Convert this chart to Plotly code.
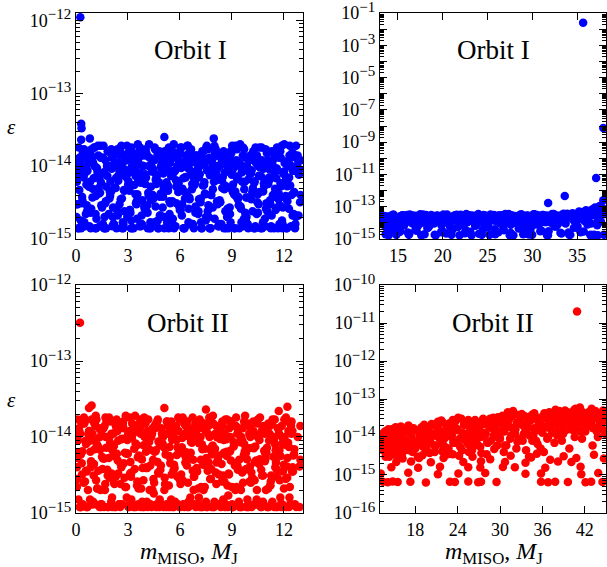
import plotly.graph_objects as go

# epsilon values are given in units of 1e-15
UNIT = 1e-15

# ---------- mass samples for the 0-13 M_J runs (shared by Orbit I and Orbit II, left panels)
m_low_a = [0.12,0.21,0.33,0.41,0.52,0.6,0.71,0.83,0.9,1.02,1.11,1.2,1.33,1.41,1.5,1.62,1.7,1.81,1.93,2.01,2.1,2.22,2.3,2.41,2.53,2.6,2.72,2.8,2.91,3.03,3.1,3.2,3.32,3.41,3.5,3.61,3.73,3.8,3.92,4.0,4.11,4.22,4.3,4.43,4.51,4.6,4.72,4.81,4.9,5.02,5.1,5.21,5.33,5.4,5.52,5.61,5.7,5.82,5.9,6.01,6.13,6.2,6.31,6.42,6.5,6.62,6.71,6.8,6.91,7.03,7.1,7.22,7.3,7.41,7.52,7.6,7.71,7.83,7.9,8.02,8.1,8.21,8.33,8.4,8.52,8.6,8.72,8.81,8.9,9.03,9.12,9.2,9.31,9.42,9.5,9.61,9.7,9.82,9.91,10.02,10.1,10.21,10.33,10.41,10.5,10.62,10.71,10.8,10.92,11.0,11.12,11.2,11.31,11.43,11.5,11.61,11.72,11.8,11.9,12.02,12.1,12.22,12.3,12.41,12.52,12.6,12.71,12.8,12.9]
m_low_b = [0.05,0.16,0.27,0.37,0.46,0.57,0.66,0.77,0.87,0.96,1.06,1.16,1.26,1.36,1.46,1.56,1.67,1.76,1.86,1.97,2.06,2.16,2.27,2.36,2.46,2.57,2.66,2.76,2.87,2.96,3.06,3.17,3.26,3.36,3.46,3.57,3.66,3.76,3.87,3.96,4.06,4.17,4.26,4.36,4.47,4.56,4.66,4.76,4.87,4.96,5.06,5.17,5.26,5.36,5.47,5.56,5.66,5.77,5.86,5.96,6.07,6.16,6.26,6.37,6.46,6.56,6.66,6.77,6.86,6.96,7.07,7.16,7.26,7.36,7.47,7.56,7.66,7.77,7.86,7.96,8.06,8.17,8.26,8.36,8.47,8.56,8.66,8.76,8.87,8.96,9.06,9.17,9.26,9.36,9.47,9.56,9.66,9.76,9.87,9.96,10.06,10.17,10.26,10.36,10.47,10.56,10.66,10.77,10.86,10.96,11.06,11.17,11.26,11.36,11.47,11.56,11.66,11.76,11.87,11.96,12.06,12.17,12.26,12.36,12.47,12.56,12.66,12.77,12.86]
m_low_c = [0.09,0.25,0.3,0.44,0.55,0.64,0.75,0.85,0.93,1.08,1.14,1.24,1.38,1.44,1.53,1.65,1.74,1.84,1.95,2.04,2.14,2.25,2.34,2.44,2.55,2.65,2.74,2.84,2.94,3.08,3.14,3.24,3.38,3.44,3.54,3.65,3.74,3.84,3.94,4.04,4.14,4.25,4.34,4.45,4.54,4.64,4.74,4.84,4.94,5.04,5.14,5.24,5.35,5.44,5.55,5.64,5.74,5.85,5.94,6.04,6.15,6.24,6.34,6.45,6.54,6.64,6.74,6.84,6.94,7.05,7.14,7.24,7.34,7.44,7.55,7.64,7.74,7.84,7.94,8.04,8.14,8.24,8.35,8.44,8.54,8.64,8.74,8.84,8.94,9.05,9.14,9.24,9.34,9.44,9.55,9.64,9.74,9.84,9.94,10.04,10.14,10.24,10.35,10.44,10.54,10.64,10.74,10.84,10.94,11.04,11.14,11.24,11.34,11.44,11.54,11.64,11.74,11.84,11.94,12.04,12.14,12.24,12.34,12.44,12.54,12.64,12.74,12.84,12.93]
m_low_d = [0.03,0.14,0.24,0.35,0.48,0.58,0.69,0.79,0.88,0.99,1.09,1.18,1.29,1.39,1.48,1.59,1.69,1.79,1.89,1.99,2.08,2.19,2.29,2.39,2.49,2.58,2.69,2.79,2.89,2.99,3.09,3.19,3.29,3.39,3.49,3.59,3.69,3.79,3.89,3.99,4.09,4.19,4.29,4.39,4.49,4.59,4.69,4.79,4.89,4.99,5.09,5.19,5.29,5.39,5.49,5.59,5.69,5.79,5.89,5.99,6.09,6.19,6.29,6.39,6.49,6.59,6.69,6.79,6.89,6.99,7.09,7.19,7.29,7.39,7.49,7.59,7.69,7.79,7.89,7.99,8.09,8.19,8.29,8.39,8.49,8.59,8.69,8.79,8.89,8.99,9.09,9.19,9.29,9.39,9.49,9.59,9.69,9.79,9.89,9.99,10.09,10.19,10.29,10.39,10.49,10.59,10.69,10.79,10.89,10.99,11.09,11.19,11.29,11.39,11.49,11.59,11.69,11.79,11.89,11.99,12.09,12.19,12.29,12.39,12.49,12.59,12.69,12.79,12.89,12.97]
m_low_e = [0.07,0.19,0.28,0.39,0.5,0.62,0.73,0.81,0.95,1.04,1.13,1.22,1.31,1.43,1.55,1.64,1.72,1.83,1.91,2.03,2.12,2.2,2.32,2.43,2.51,2.62,2.7,2.82,2.93,3.01,3.12,3.22,3.3,3.43,3.52,3.63,3.71,3.82,3.9,4.02,4.13,4.2,4.32,4.41,4.53,4.62,4.7,4.83,4.92,5.0,5.12,5.23,5.31,5.42,5.5,5.62,5.72,5.8,5.92,6.03,6.11,6.22,6.33,6.4,6.52,6.6,6.73,6.82,6.9,7.01,7.12,7.2,7.32,7.43,7.5,7.62,7.73,7.81,7.92,8.0,8.12,8.23,8.31,8.42,8.5,8.62,8.7,8.83,8.92,9.01,9.1,9.22,9.33,9.4,9.52,9.63,9.71,9.8,9.93,10.0,10.12,10.23,10.31,10.43,10.52,10.6,10.73,10.82,10.9,11.02,11.1,11.22,11.33,11.41,11.52,11.6,11.7,11.82,11.92,12.0,12.12,12.2,12.32,12.43,12.5,12.62,12.73,12.82,12.95]

# ---------- Orbit I, 0-13 M_J (blue, top-left)
eps1_a = [1.4,8.2,3.1,14,1.5,5.6,11,2.3,17,6.8,1.4,9.5,4.2,19,2.7,1.4,12,7.3,3.6,15,1.5,5.1,10,2.1,16,8.8,1.4,4.6,13,6.2,2.5,18,1.4,9.1,3.3,11,5.9,1.6,14,7.7,2.9,20,1.4,4.0,12,6.5,1.8,16,9.9,3.8,1.4,13,5.3,2.2,17,8.0,1.5,10,4.4,15,3.0,1.4,7.1,19,2.6,11,5.7,1.4,14,8.5,3.5,1.7,12,6.0,18,2.4,1.4,9.3,4.8,15,7.4,1.5,3.2,11,16,5.4,2.0,1.4,13,8.9,4.1,19,6.6,1.4,2.8,10,17,3.7,1.6,12,7.9,5.0,1.4,14,2.3,9.6,18,4.5,1.5,6.3,11,3.4,16,1.4,8.3,2.7,13,5.8,1.4,20,3.9,10,7.0,1.5,15,4.3,2.1,12,9.0]
eps1_b = [6.1,1.4,12,3.4,17,2.2,8.6,1.5,14,4.9,10,1.4,19,6.9,2.9,13,1.4,5.2,16,3.9,9.2,1.6,11,2.5,7.5,18,1.4,4.7,14,2.0,8.1,1.4,12,5.5,3.1,20,1.5,6.7,10,2.6,15,4.3,1.4,9.8,3.6,17,7.2,1.4,2.1,13,5.0,11,1.7,18,8.4,3.3,1.4,6.4,15,2.8,9.4,4.6,1.4,12,19,3.5,7.8,1.5,5.9,14,2.4,10,1.4,16,4.1,8.7,2.0,1.4,11,6.1,17,3.0,1.6,13,7.1,4.8,1.4,9.7,2.7,15,5.6,1.4,12,3.8,20,8.2,1.5,2.3,10,6.6,14,4.4,1.4,18,3.2,7.4,1.4,11,5.3,2.6,16,9.0,1.5,4.0,13,6.8,1.4,2.9,19,8.0,3.7,1.4,12,5.4,15,2.2,1.6,10,7.6]
eps1_c = [3.0,10,1.4,7.0,15,2.4,5.2,1.4,12,18,3.9,8.3,1.5,6.0,13,2.0,1.4,9.9,4.5,17,2.7,11,1.4,6.3,14,3.6,1.6,8.9,19,5.1,2.3,1.4,12,7.3,4.1,16,1.5,10,2.8,6.9,1.4,13,3.4,9.1,18,5.7,1.4,2.1,11,7.9,4.6,15,1.4,3.1,8.5,20,1.5,6.2,12,2.5,4.9,1.4,14,9.4,3.7,17,1.6,5.5,11,2.2,7.7,1.4,13,4.2,19,2.9,1.4,8.1,10,6.5,3.3,1.5,15,5.0,1.4,12,2.6,9.5,16,4.4,1.4,7.2,3.5,11,1.7,18,6.1,2.0,1.4,13,8.8,4.7,1.5,14,3.0,10,1.4,5.8,17,2.4,7.0,1.4,12,3.8,9.3,15,1.6,5.3,2.7,11,1.4,6.7,19,4.0,8.6,1.4,13,2.1,3.2]
eps1_d = [2.0,7.5,12,3.8,1.7,9.8,5.4,16,2.6,11,6.9,1.9,14,4.3,8.0,19,3.1,10,2.2,6.2,13,1.6,5.0,17,8.9,3.5,11,2.4,7.1,15,4.6,1.8,12,9.2,3.0,6.5,18,2.1,10,5.7,14,3.9,1.7,8.4,12,2.8,16,6.0,4.2,11,2.0,9.5,13,3.3,7.3,1.9,15,5.2,10,2.5,18,6.8,3.6,12,1.7,8.7,4.8,14,2.3,11,7.0,3.2,16,5.5,1.8,9.0,13,4.0,2.7,19,6.4,10,3.4,1.6,12,8.2,5.1,15,2.2,7.6,11,4.5,17,2.9,9.7,6.1,1.9,13,3.7,8.5,14,2.4,5.9,11,4.1,18,7.2,1.7,10,3.1,12,6.6,2.1,15,4.9,9.3,3.5,16,1.8,7.8,11,5.3,2.6,13,8.9,4.4,2.0,14]
eps1_e = [11,4.7,1.8,15,7.9,2.9,12,6.1,3.7,18,2.2,9.1,5.0,13,1.6,8.3,3.3,16,10,4.5,2.0,14,6.9,11,3.0,19,1.7,7.4,12,5.6,2.5,9.9,15,4.1,1.9,13,8.0,3.4,6.3,17,2.3,10,5.2,12,1.7,7.7,14,3.8,9.4,2.7,16,6.0,4.6,11,1.8,13,8.6,3.1,5.8,18,2.1,10,7.0,4.3,15,1.6,12,6.7,2.8,9.0,14,3.6,5.4,11,2.0,17,7.5,4.0,13,1.9,8.8,3.2,10,6.4,15,2.4,12,5.1,1.7,19,9.6,3.9,7.1,11,2.6,14,4.8,1.8,13,8.1,3.5,16,6.2,2.2,10,4.4,12,9.2,1.9,15,5.7,3.0,11,7.3,2.5,18,4.2,13,1.6,8.4,6.6,3.3,14,10,2.1]
m1_extra = [0.25,0.3,0.32,0.8,5.1,7.95,0.15,12.7,0.05,0.05,12.97,12.97,0.3,0.2]
eps1_extra = [1100,38,33,24,25,24,18,19,9,3,12,4,23,13]

# ---------- Orbit II, 0-13 M_J (red, bottom-left)
eps3_a = [9.0,1.2,4.5,15,2.6,1.2,11,6.4,17,3.1,1.3,8.0,13,2.0,5.5,1.2,18,3.7,10,7.1,1.2,2.4,14,4.9,1.3,9.3,16,2.9,6.0,1.2,12,3.4,1.2,19,7.7,2.1,11,5.1,1.2,15,3.9,8.6,1.3,13,2.5,6.7,17,1.2,4.2,10,2.0,1.2,14,7.4,3.2,1.2,12,5.8,18,2.7,9.7,1.3,4.6,16,1.2,6.2,11,3.0,1.2,13,8.3,2.2,1.2,15,5.3,3.6,10,1.2,19,7.0,2.4,1.3,12,4.4,9.1,1.2,17,3.3,6.6,1.2,14,2.0,11,5.0,1.2,8.8,16,3.8,1.2,2.6,13,7.2,4.7,1.3,10,18,1.2,3.1,6.1,12,1.2,2.3,15,9.4,4.0,1.2,11,5.6,1.3,17,2.8,8.1,1.2,14,3.5,6.9,1.2,10,4.1]
eps3_b = [2.2,13,1.2,6.5,18,3.6,1.2,9.6,4.8,1.3,15,2.7,7.6,1.2,12,5.2,2.0,16,1.2,8.4,3.3,11,1.2,6.0,14,2.4,1.3,4.5,19,9.1,1.2,3.0,12,7.0,1.2,5.4,15,2.1,1.2,10,4.0,17,6.8,1.2,2.8,13,1.3,8.7,3.7,11,1.2,5.9,16,2.3,1.2,9.8,4.3,14,7.3,1.2,3.2,18,1.2,6.3,2.5,12,1.3,5.0,10,3.9,15,1.2,8.0,2.0,13,1.2,4.6,17,7.5,1.2,3.4,11,5.7,1.3,14,2.6,9.3,1.2,6.4,16,1.2,4.2,2.2,12,8.5,1.2,3.6,19,5.1,1.2,10,2.9,7.1,1.3,15,4.4,1.2,13,6.6,2.0,1.2,11,3.1,9.0,17,1.2,5.5,2.7,14,1.2,7.9,4.1,12,1.3,3.5]
eps3_c = [5.3,1.2,16,2.5,8.9,1.2,12,4.0,1.3,6.9,19,2.1,10,1.2,3.8,14,7.2,1.2,2.9,11,5.6,1.2,17,3.3,1.2,9.5,13,2.2,6.1,1.3,4.7,15,1.2,8.2,2.6,12,1.2,3.9,18,6.4,1.2,2.0,10,5.0,14,1.2,3.4,7.8,1.3,11,2.4,16,1.2,4.5,9.2,1.2,13,3.0,6.8,1.2,2.7,15,5.4,1.2,10,8.6,3.6,1.3,12,2.1,17,1.2,4.3,7.0,1.2,14,2.8,5.9,1.2,11,9.9,3.2,1.2,16,6.2,1.3,2.3,13,4.9,1.2,8.0,18,3.7,1.2,10,2.5,6.5,1.2,15,4.1,1.2,12,7.5,2.0,1.3,11,3.1,14,5.2,1.2,9.0,2.6,17,1.2,4.6,13,6.7,1.2,3.5,10,1.2,8.4,2.2,16,5.7,1.3]
eps3_d = [6.3,1.5,11,3.2,15,8.1,2.0,12,4.6,1.4,9.0,17,3.6,6.8,1.3,13,2.4,10,5.3,16,1.6,7.6,3.0,12,1.3,4.4,14,9.5,2.2,6.0,18,1.5,11,3.8,7.9,1.3,13,5.1,2.7,15,1.4,8.8,4.2,11,1.8,6.5,16,3.3,1.3,10,7.2,2.3,14,5.6,1.5,12,3.9,9.3,1.3,17,2.6,6.1,11,4.8,1.4,13,8.4,2.0,15,3.5,1.6,10,6.9,1.3,12,4.0,18,2.8,7.7,1.4,14,5.0,9.8,1.3,3.1,11,6.4,1.7,16,2.2,8.6,4.5,1.3,13,10,3.4,5.8,15,1.5,7.1,2.5,12,1.3,4.9,17,9.1,3.7,1.4,11,6.2,2.1,14,1.3,5.5,8.0,3.0,13,1.6,10,4.3,16,2.9,7.4,1.3,12,5.9]
eps3_e = [2.8,12,5.9,1.3,16,3.5,8.7,1.5,11,4.4,14,2.1,7.0,1.3,13,5.2,10,3.1,18,1.4,6.6,2.5,12,8.9,1.3,4.0,15,6.2,1.6,11,3.3,9.6,1.3,14,2.3,5.7,17,1.4,7.8,3.9,12,1.3,10,2.0,6.4,15,4.7,1.5,13,8.2,2.9,1.3,11,5.4,16,3.6,1.4,9.1,12,2.4,7.3,1.3,14,4.2,6.0,1.6,18,3.0,10,1.3,8.5,5.0,13,2.2,1.4,11,6.9,3.8,15,1.3,4.6,12,9.4,2.6,1.5,17,5.6,3.2,10,1.3,7.5,14,4.1,1.4,2.0,13,8.0,6.1,1.3,11,3.4,16,2.7,1.5,9.9,5.1,12,1.3,4.8,7.2,15,2.3,1.4,10,6.7,3.7,13,1.3,8.3,2.1,18,5.3,1.6,11,4.0]
m3_extra = [0.23,0.9,0.75,5.1,7.5,12.2,11.7,0.1,0.05,0.05,12.95,12.95,12.9,0.3]
eps3_extra = [320,26,24,24,23,25,22,17,11,4,14,5,1.2,1.2]

# ---------- Orbit I, 13-38 M_J (blue, top-right)
m2_a = [13.1,13.32,13.63,13.85,14.07,14.38,14.6,14.83,15.12,15.35,15.58,15.87,16.1,16.33,16.62,16.85,17.08,17.37,17.6,17.82,18.13,18.35,18.57,18.88,19.1,19.32,19.63,19.85,20.07,20.38,20.6,20.83,21.12,21.35,21.58,21.87,22.1,22.33,22.62,22.85,23.08,23.37,23.6,23.82,24.13,24.35,24.57,24.88,25.1,25.32,25.63,25.85,26.07,26.38,26.6,26.83,27.12,27.35,27.58,27.87,28.1,28.33,28.62,28.85,29.08,29.37,29.6,29.82,30.13,30.35,30.57,30.88,31.1,31.32,31.63,31.85,32.07,32.38,32.6,32.83,33.12,33.35,33.58,33.87,34.1,34.33,34.62,34.85,35.08,35.37,35.6,35.82,36.13,36.35,36.57,36.88,37.1,37.32,37.63,37.85,38.07]
eps2_a = [30,8,2,25,13,4.5,28,1.8,18,6,30,11,2.5,33,9,20,3.2,26,1.7,14,31,5,22,10,1.8,29,16,7,33,2.2,24,12,4,30,19,1.7,27,8.5,35,15,2.8,23,6.5,31,11,1.8,28,21,5.5,33,14,2,26,9.5,30,3.5,17,35,7.5,1.7,27,12,32,23,4.2,29,1.9,15,34,8,25,3,31,18,1.7,28,10,35,6,22,2.4,30,13,36,1.8,27,5,33,16,2.6,45,20,8,55,30,1.8,65,40,12,80,35]
m2_b = [13.22,13.47,13.74,13.97,14.23,14.49,14.72,14.97,15.24,15.47,15.7,15.98,16.22,16.47,16.73,16.97,17.2,17.48,17.72,17.97,18.23,18.47,18.7,18.98,19.22,19.47,19.73,19.97,20.2,20.48,20.72,20.97,21.23,21.47,21.7,21.98,22.22,22.47,22.73,22.97,23.2,23.48,23.72,23.97,24.23,24.47,24.7,24.98,25.22,25.47,25.73,25.97,26.2,26.48,26.72,26.97,27.23,27.47,27.7,27.98,28.22,28.47,28.73,28.97,29.2,29.48,29.72,29.97,30.23,30.47,30.7,30.98,31.22,31.47,31.73,31.97,32.2,32.48,32.72,32.97,33.23,33.47,33.7,33.98,34.22,34.47,34.73,34.97,35.2,35.48,35.72,35.97,36.23,36.47,36.7,36.98,37.22,37.47,37.73,37.97]
eps2_b = [12,27,5,1.7,22,33,9,16,2.8,30,7,25,1.8,14,29,4,20,34,10,2,26,6,31,17,1.7,28,12,3,24,33,8,1.8,27,15,5.5,32,21,2.3,11,30,1.7,25,7,35,18,3.8,29,9,1.8,23,31,13,2.6,27,6.5,35,16,1.7,30,10,25,4.5,33,2,19,28,8,1.8,34,14,26,3.4,31,11,1.7,22,35,6,29,17,2.2,36,9,27,1.8,40,13,5,50,24,2.9,60,19,1.7,70,90,7,100,35,1.8]
m2_c = [13.03,13.28,13.55,13.8,14.02,14.28,14.55,14.8,15.03,15.28,15.55,15.8,16.03,16.28,16.55,16.8,17.03,17.28,17.55,17.8,18.03,18.28,18.55,18.8,19.03,19.28,19.55,19.8,20.03,20.28,20.55,20.8,21.03,21.28,21.55,21.8,22.03,22.28,22.55,22.8,23.03,23.28,23.55,23.8,24.03,24.28,24.55,24.8,25.03,25.28,25.55,25.8,26.03,26.28,26.55,26.8,27.03,27.28,27.55,27.8,28.03,28.28,28.55,28.8,29.03,29.28,29.55,29.8,30.03,30.28,30.55,30.8,31.03,31.28,31.55,31.8,32.03,32.28,32.55,32.8,33.03,33.28,33.55,33.8,34.03,34.28,34.55,34.8,35.03,35.28,35.55,35.8,36.03,36.28,36.55,36.8,37.03,37.28,37.55,37.8,38.05]
eps2_c = [18,10,24,6,14,29,3.5,20,12,26,8,16,31,2.2,22,11,27,7,17,33,13,4.8,21,28,9,15,25,2.6,19,30,11,6,23,14,32,8,18,27,3.6,12,24,29,10,16,2.1,21,31,7,13,26,18,4,22,30,12,9,17,28,2.4,14,25,20,6.5,33,11,19,27,4.4,15,23,31,9,12,21,29,3,17,26,14,8,24,32,11,19,2.5,28,15,22,6,30,40,13,26,50,9,35,55,18,70,45,60]
m2_extra = [35.65,37.9,37.1,37.9,31.75,33.6,37.5,37.7,36.9,38.15,36.5,37.3]
eps2_extra = [2.5e13,7.4e6,6e3,250,170,460,110,80,70,45,1.8,1.7]

# ---------- Orbit II, 13-45 M_J (red, bottom-right)
m4_a = [13.1,13.42,13.7,14.03,14.31,14.6,14.92,15.2,15.53,15.81,16.1,16.42,16.7,17.03,17.31,17.6,17.92,18.2,18.53,18.81,19.1,19.42,19.7,20.03,20.31,20.6,20.92,21.2,21.53,21.81,22.1,22.42,22.7,23.03,23.31,23.6,23.92,24.2,24.53,24.81,25.1,25.42,25.7,26.03,26.31,26.6,26.92,27.2,27.53,27.81,28.1,28.42,28.7,29.03,29.31,29.6,29.92,30.2,30.53,30.81,31.1,31.42,31.7,32.03,32.31,32.6,32.92,33.2,33.53,33.81,34.1,34.42,34.7,35.03,35.31,35.6,35.92,36.2,36.53,36.81,37.1,37.42,37.7,38.03,38.31,38.6,38.92,39.2,39.53,39.81,40.1,40.42,40.7,41.03,41.31,41.6,41.92,42.2,42.53,42.81,43.1,43.42,43.7,44.03,44.31,44.6,44.9]
eps4_a = [8,4.5,14,6,3,11,7,18,5,9.5,3.5,13,6.5,20,10,4,15,7.5,2.8,12,5.5,17,8.5,3.8,22,11,6,25,14,4.2,9,19,5,13,28,7,16,3.2,30,10,21,6.5,14,4.5,24,9,17,5.5,27,12,3.5,20,8,32,15,6,11,26,4,18,45,9,35,13,5,38,22,8,35,16,3,28,11,33,6.5,20,14,4,30,10,40,22,7,45,17,30,12,50,25,5,40,15,55,20,60,9,33,18,45,25,6,38,14,30,20,50,12]
m4_b = [13.25,13.57,13.85,14.18,14.46,14.75,15.07,15.35,15.68,15.96,16.25,16.57,16.85,17.18,17.46,17.75,18.07,18.35,18.68,18.96,19.25,19.57,19.85,20.18,20.46,20.75,21.07,21.35,21.68,21.96,22.25,22.57,22.85,23.18,23.46,23.75,24.07,24.35,24.68,24.96,25.25,25.57,25.85,26.18,26.46,26.75,27.07,27.35,27.68,27.96,28.25,28.57,28.85,29.18,29.46,29.75,30.07,30.35,30.68,30.96,31.25,31.57,31.85,32.18,32.46,32.75,33.07,33.35,33.68,33.96,34.25,34.57,34.85,35.18,35.46,35.75,36.07,36.35,36.68,36.96,37.25,37.57,37.85,38.18,38.46,38.75,39.07,39.35,39.68,39.96,40.25,40.57,40.85,41.18,41.46,41.75,42.07,42.35,42.68,42.96,43.25,43.57,43.85,44.18,44.46,44.75]
eps4_b = [12,5,9,16,4,7.5,13,3.2,10,19,6,14,8,4.5,11,17,6.5,3,13,9,21,5,15,7,12,4,18,9.5,27,6,14,3.5,23,11,7.5,17,32,5.5,13,8.5,25,4,19,10,28,6.5,15,3.8,22,12,7,30,17,4.8,24,9.5,14,36,6,21,28,11,48,16,7.5,25,40,12,4.5,19,30,8,42,15,24,5,35,18,9,45,27,13,52,33,20,8,38,24,44,16,30,10,36,22,47,28,14,40,26,55,18,35,10,42,24,32]
m4_c = [13.18,13.5,13.78,14.1,14.39,14.68,15.0,15.28,15.6,15.89,16.18,16.5,16.78,17.1,17.39,17.68,18.0,18.28,18.6,18.89,19.18,19.5,19.78,20.1,20.39,20.68,21.0,21.28,21.6,21.89,22.18,22.5,22.78,23.1,23.39,23.68,24.0,24.28,24.6,24.89,25.18,25.5,25.78,26.1,26.39,26.68,27.0,27.28,27.6,27.89,28.18,28.5,28.78,29.1,29.39,29.68,30.0,30.28,30.6,30.89,31.18,31.5,31.78,32.1,32.39,32.68,33.0,33.28,33.6,33.89,34.18,34.5,34.78,35.1,35.39,35.68,36.0,36.28,36.6,36.89,37.18,37.5,37.78,38.1,38.39,38.68,39.0,39.28,39.6,39.89,40.18,40.5,40.78,41.1,41.39,41.68,42.0,42.28,42.6,42.89,43.18,43.5,43.78,44.1,44.39,44.68,44.95]
eps4_c = [6,10,4,13,8,16,5,11,7,14,9,4.5,17,6.5,12,8,5,15,10,18,7,4,13,9,20,6,11,16,8,24,5.5,13,19,10,7,26,15,9,4.5,21,12,28,8,17,6,14,23,10,30,13,7.5,19,25,11,16,33,9,22,14,6,29,18,40,12,24,9,35,20,15,27,11,38,17,8,30,22,13,42,19,26,16,35,24,11,48,20,32,15,40,28,18,52,22,36,14,45,30,20,38,25,17,48,30,22,40,15,35]
m4_low = [13.4,14.1,14.8,15.5,17.3,19.5,22.9,23.6,25.5,26.9,27.3,29.5,35.8,36.8,37.8,39.6,42.1,42.9,44.5,
          13.1,17.0,21.2,24.1,27.9,33.6,35.8,41.5,43.9,
          14.6,18.4,21.5,25.5,27.2,30.4,32.1,36.4,41.4,
          15.3,17.4,20.2,24.8,27.3,30.7,33.6,38.2,40.1,
          13.8,16.2,19.0,22.0,23.3,26.1,28.6,31.5,34.4,35.2,37.1,39.0,40.8,43.3,44.7,40.9]
eps4_low = [0.66,0.64,0.67,0.65,0.66,0.63,0.66,0.65,0.67,0.64,0.66,0.65,0.66,0.64,0.66,0.65,0.64,0.66,0.65,
            1.1,1.15,1.05,1.1,1.12,1.08,1.1,1.05,1.12,
            1.6,1.55,1.65,1.6,1.58,1.62,1.6,1.55,1.65,
            2.2,2.25,2.15,2.2,2.3,2.2,2.1,2.25,2.2,
            3.0,2.7,3.3,2.8,3.5,3.0,2.6,3.2,2.9,3.6,2.5,3.1,2.8,3.4,2.7,2.0e4]

FONT = "Liberation Serif"
BLUE = "#0000ff"
RED = "#ff0000"
W, H = 607, 567


def pair(xs_list, ys_list):
    X, Y = [], []
    for xs, ys in zip(xs_list, ys_list):
        n = min(len(xs), len(ys))
        X += list(xs[:n])
        Y += [v * UNIT for v in ys[:n]]
    return X, Y


lows = [m_low_a, m_low_b, m_low_c, m_low_d, m_low_e]
x1, y1 = pair(lows + [m1_extra], [eps1_a, eps1_b, eps1_c, eps1_d, eps1_e, eps1_extra])
x2, y2 = pair([m2_a, m2_b, m2_c, m2_extra], [eps2_a, eps2_b, eps2_c, eps2_extra])
x3, y3 = pair(lows + [m3_extra], [eps3_a, eps3_b, eps3_c, eps3_d, eps3_e, eps3_extra])
x4, y4 = pair([m4_a, m4_b, m4_c, m4_low], [eps4_a, eps4_b, eps4_c, eps4_low])

fig = go.Figure()
MS = 8.5
for i, (x, y, c) in enumerate([(x1, y1, BLUE), (x2, y2, BLUE), (x3, y3, RED), (x4, y4, RED)], start=1):
    fig.add_trace(go.Scatter(x=x, y=y, mode="markers", xaxis=f"x{i}", yaxis=f"y{i}",
                             marker=dict(size=MS, color=c, line=dict(width=0)),
                             showlegend=False, hoverinfo="skip"))


def px_x(p):
    return p / W


def px_y(p):
    return 1 - p / H


# panel boxes in pixels (left, right, top, bottom)
boxes = {1: (76, 303, 13, 239), 2: (380, 606, 13, 239), 3: (76, 303, 285, 513), 4: (380, 606, 285, 513)}


def sup(e):
    return '10<sup><span style="font-size:15px">\u2212%d</span></sup>' % e


axis_common = dict(showline=True, linecolor="black", linewidth=1.2, mirror="ticks",
                   ticks="inside", tickcolor="black", tickwidth=1, showgrid=False,
                   zeroline=False, automargin=False, ticklabeloverflow="allow",
                   tickfont=dict(family=FONT, size=18, color="black"))

x_cfg = {
    1: dict(range=[0, 13.1], tickvals=[0, 3, 6, 9, 12]),
    2: dict(range=[13, 38.2], tickvals=[15, 20, 25, 30, 35]),
    3: dict(range=[0, 13.1], tickvals=[0, 3, 6, 9, 12]),
    4: dict(range=[13, 45], tickvals=[18, 24, 30, 36, 42]),
}
# (lowest decade, highest decade, axis range)
y_cfg = {1: (-15, -12, [-15, -11.9]), 2: (-15, -1, [-15.001, -0.999]),
         3: (-15, -12, [-15.001, -11.999]), 4: (-16, -10, [-16.001, -9.999])}

layout = dict(width=W, height=H, margin=dict(l=0, r=0, t=0, b=0),
              paper_bgcolor="white", plot_bgcolor="white", template="none")

for i in range(1, 5):
    l, r, t, b = boxes[i]
    xa = dict(axis_common, domain=[px_x(l), px_x(r)], anchor=f"y{i}", ticklen=7,
              ticktext=[str(v) for v in x_cfg[i]["tickvals"]], **x_cfg[i])
    lo, hi, rng = y_cfg[i]
    decs = list(range(lo, hi + 1))
    if i == 2:
        ttext = [sup(-d) if (d % 2 != 0) else "" for d in decs]
    else:
        ttext = [sup(-d) for d in decs]
    ya = dict(axis_common, domain=[px_y(b), px_y(t)], anchor=f"x{i}", type="log",
              range=rng, tickvals=[10.0 ** d for d in decs], ticktext=ttext, ticklen=7,
              minor=dict(ticks="inside", ticklen=3.5, tickcolor="black", tickwidth=0.8,
                         dtick="D1", showgrid=False))
    layout[f"xaxis{i}"] = xa
    layout[f"yaxis{i}"] = ya

fig.update_layout(**layout)

ann = []
for i, txt in [(1, "Orbit I"), (2, "Orbit I"), (3, "Orbit II"), (4, "Orbit II")]:
    cx = {1: 190, 2: 493, 3: 188, 4: 493}[i]
    cy = {1: 50, 2: 50, 3: 323, 4: 323}[i]
    ann.append(dict(x=px_x(cx), y=px_y(cy), xref="paper", yref="paper", text=txt,
                    showarrow=False, xanchor="center", yanchor="middle",
                    font=dict(family=FONT, size=27, color="black")))
for cy in (127, 400):
    ann.append(dict(x=px_x(11), y=px_y(cy), xref="paper", yref="paper", text="<i>\u03b5</i>",
                    showarrow=False, xanchor="center", yanchor="middle",
                    font=dict(family=FONT, size=21, color="black")))
for cx in (189, 494):
    ann.append(dict(x=px_x(cx), y=px_y(553), xref="paper", yref="paper",
                    text="<i>m</i><sub>MISO</sub>, <i>M</i><sub>J</sub>",
                    showarrow=False, xanchor="center", yanchor="middle",
                    font=dict(family=FONT, size=24, color="black")))
fig.update_layout(annotations=ann)

fig.write_html("out.html")
